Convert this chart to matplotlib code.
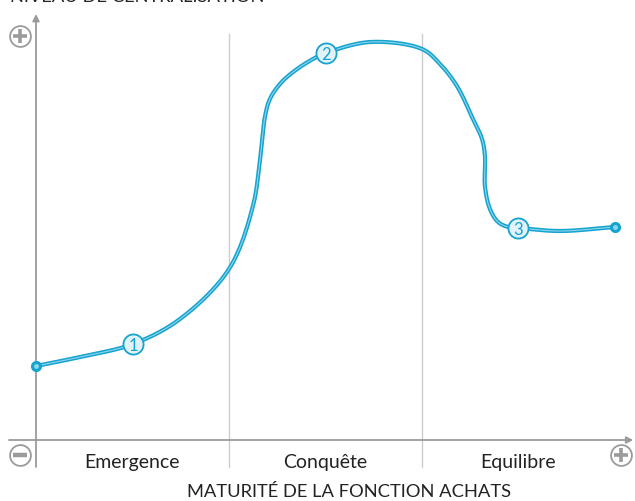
import numpy as np
import matplotlib
matplotlib.use("Agg")
from matplotlib import pyplot as plt

plt.rcParams['font.family'] = ['Lato', 'DejaVu Sans']

# phases along the maturity axis (one unit per phase)
phases = ["Emergence", "Conquête", "Equilibre"]
x_title = "MATURITÉ DE LA FONCTION ACHATS"
y_title = "NIVEAU DE CENTRALISATION"

# centralisation level along the curve (x in phase units, y in 0-100)
curve_x = [0.0, 0.228, 0.503, 0.746, 1.0, 1.124, 1.161, 1.187, 1.212,
           1.264, 1.332, 1.435, 1.503, 1.731, 2.0, 2.093, 2.181, 2.264,
           2.311, 2.326, 2.326, 2.352, 2.394, 2.446, 2.497, 2.715, 3.0]
curve_y = [18.5, 20.75, 24.0, 30.25, 42.75, 58.5, 70.25, 81.0, 85.25,
           89.0, 92.0, 95.25, 96.75, 99.5, 97.75, 94.0, 88.5, 80.25,
           75.25, 71.0, 63.5, 57.75, 54.5, 53.25, 53.0, 52.25, 53.25]

# numbered milestones on the curve
steps = ["1", "2", "3"]
step_x = [0.503, 1.503, 2.497]
step_y = [24.0, 96.75, 53.0]

BLUE = "#16a3cd"
LIGHT = "#8fd6ee"
GREY = "#9b9b9b"

# px per unit, used to smooth the curve in screen space
SX, SY = 193.0, 4.0


def catmull_rom(xs, ys, n=40, alpha=0.5):
    # centripetal catmull-rom, avoids kinks where points are uneven
    pts = np.column_stack([np.array(xs) * SX, np.array(ys) * SY])
    pts = np.vstack([2 * pts[0] - pts[1], pts, 2 * pts[-1] - pts[-2]])
    out = []
    for i in range(1, len(pts) - 2):
        p0, p1, p2, p3 = pts[i - 1], pts[i], pts[i + 1], pts[i + 2]
        t0 = 0.0
        t1 = t0 + np.linalg.norm(p1 - p0) ** alpha
        t2 = t1 + np.linalg.norm(p2 - p1) ** alpha
        t3 = t2 + np.linalg.norm(p3 - p2) ** alpha
        t = np.linspace(t1, t2, n, endpoint=False)[:, None]
        a1 = (t1 - t) / (t1 - t0) * p0 + (t - t0) / (t1 - t0) * p1
        a2 = (t2 - t) / (t2 - t1) * p1 + (t - t1) / (t2 - t1) * p2
        a3 = (t3 - t) / (t3 - t2) * p2 + (t - t2) / (t3 - t2) * p3
        b1 = (t2 - t) / (t2 - t0) * a1 + (t - t0) / (t2 - t0) * a2
        b2 = (t3 - t) / (t3 - t1) * a2 + (t - t1) / (t3 - t1) * a3
        out.append((t2 - t) / (t2 - t1) * b1 + (t - t1) / (t2 - t1) * b2)
    out.append(pts[-2][None, :])
    out = np.vstack(out)
    return out[:, 0] / SX, out[:, 1] / SY


fig = plt.figure(figsize=(6.35, 5.02), dpi=100)
ax = fig.add_axes([0, 0, 1, 1])
ax.set_xlim(-36 / SX, 599 / SX)
ax.set_ylim(-15.25, 110.25)
ax.axis('off')

# phase separators
for xs in [1, 2]:
    ax.plot([xs, xs], [-6.75, 101.5], color="#cccccc", lw=1.0, zorder=1)

# axes with arrows
ax.annotate("", xy=(0, 106.5), xytext=(0, -6.75),
            arrowprops=dict(arrowstyle="-|>", color=GREY, lw=1.3,
                            mutation_scale=10, shrinkA=0, shrinkB=0), zorder=2)
ax.annotate("", xy=(3.095, 0), xytext=(-0.14, 0),
            arrowprops=dict(arrowstyle="-|>", color=GREY, lw=1.3,
                            mutation_scale=10, shrinkA=0, shrinkB=0), zorder=2)

# plus / minus badges
for bx, by, sign in [(-0.083, 101.0, "+"), (-0.083, -3.75, "-"), (3.031, -3.75, "+")]:
    ax.plot(bx, by, marker="o", ms=15, mfc="white", mec=GREY, mew=1.3, zorder=3)
    if sign == "+":
        ax.plot(bx, by, marker="+", ms=10, mec=GREY, mew=2.6, zorder=4)
    else:
        ax.plot(bx, by, marker="_", ms=10, mec=GREY, mew=3.2, zorder=4)

# the curve: dark outline with a light core
sx, sy = catmull_rom(curve_x, curve_y)
ax.plot(sx, sy, color=BLUE, lw=3.0, solid_capstyle="round", zorder=5)
ax.plot(sx, sy, color=LIGHT, lw=0.8, solid_capstyle="round", zorder=6)
ax.plot([curve_x[0], curve_x[-1]], [curve_y[0], curve_y[-1]], "o",
        color=BLUE, ms=7, zorder=7)
ax.plot([curve_x[0], curve_x[-1]], [curve_y[0], curve_y[-1]], "o",
        color=LIGHT, ms=2.5, zorder=7)

for lab, xs, ys in zip(steps, step_x, step_y):
    ax.plot(xs, ys, "o", ms=14.5, mfc="#e1f2f9", mec=BLUE, mew=1.3, zorder=8)
    ax.text(xs, ys - 0.3, lab, color=BLUE, fontsize=12, ha="center",
            va="center", zorder=9)

for i, p in enumerate(phases):
    ax.text(i + 0.5, -5.5, p, fontsize=14, color="#222222",
            ha="center", va="center")
ax.text(1.622, -12.75, x_title, fontsize=13.2, color="#222222",
        ha="center", va="center")
ax.text(-0.135, 109.75, y_title, fontsize=13.2, color="#222222",
        ha="left", va="baseline")

fig.savefig("out.png", dpi=100)
